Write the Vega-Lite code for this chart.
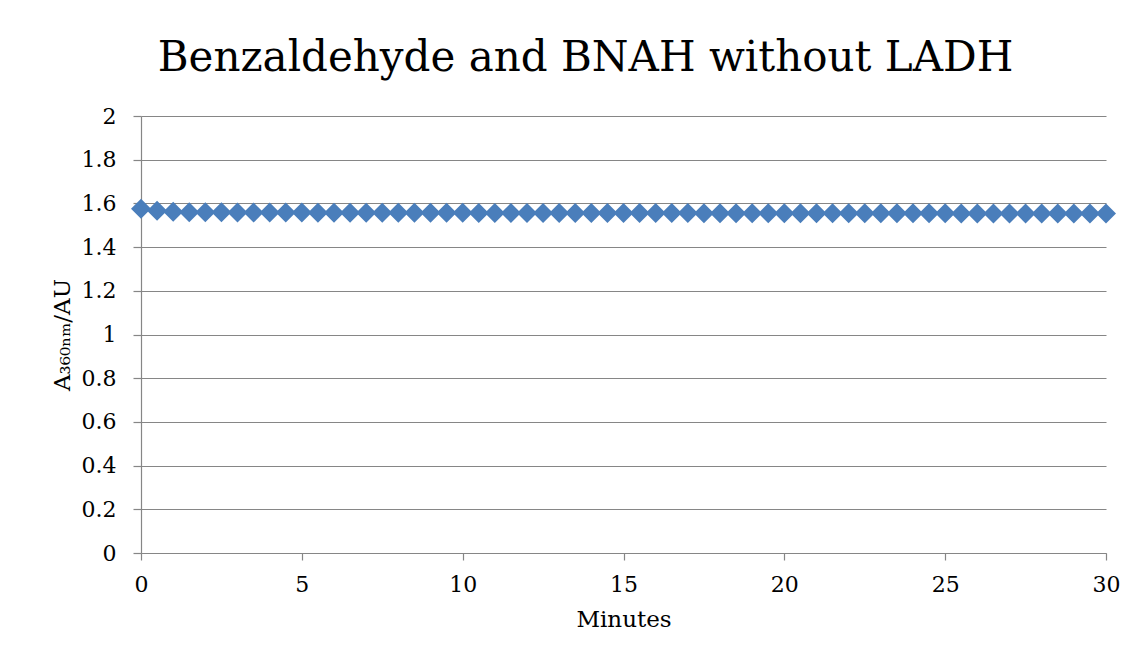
{
  "$schema": "https://vega.github.io/schema/vega-lite/v6.json",
  "width": 965,
  "height": 437,
  "autosize": "none",
  "padding": {"left": 141, "top": 116, "right": 34, "bottom": 118},
  "background": "white",
  "title": {
    "text": "Benzaldehyde and BNAH without LADH",
    "font": "DejaVu Serif",
    "fontSize": 42,
    "fontWeight": "normal",
    "color": "black",
    "anchor": "middle",
    "frame": "bounds",
    "baseline": "alphabetic",
    "offset": -8
  },
  "data": {
    "values": [
      {"min": 0, "abs": 1.576},
      {"min": 0.5, "abs": 1.566},
      {"min": 1, "abs": 1.562},
      {"min": 1.5, "abs": 1.560},
      {"min": 2, "abs": 1.559},
      {"min": 2.5, "abs": 1.559},
      {"min": 3, "abs": 1.558},
      {"min": 3.5, "abs": 1.558},
      {"min": 4, "abs": 1.558},
      {"min": 4.5, "abs": 1.558},
      {"min": 5, "abs": 1.558},
      {"min": 5.5, "abs": 1.557},
      {"min": 6, "abs": 1.557},
      {"min": 6.5, "abs": 1.557},
      {"min": 7, "abs": 1.557},
      {"min": 7.5, "abs": 1.557},
      {"min": 8, "abs": 1.557},
      {"min": 8.5, "abs": 1.557},
      {"min": 9, "abs": 1.557},
      {"min": 9.5, "abs": 1.557},
      {"min": 10, "abs": 1.557},
      {"min": 10.5, "abs": 1.556},
      {"min": 11, "abs": 1.556},
      {"min": 11.5, "abs": 1.556},
      {"min": 12, "abs": 1.556},
      {"min": 12.5, "abs": 1.556},
      {"min": 13, "abs": 1.556},
      {"min": 13.5, "abs": 1.556},
      {"min": 14, "abs": 1.556},
      {"min": 14.5, "abs": 1.556},
      {"min": 15, "abs": 1.556},
      {"min": 15.5, "abs": 1.556},
      {"min": 16, "abs": 1.556},
      {"min": 16.5, "abs": 1.556},
      {"min": 17, "abs": 1.556},
      {"min": 17.5, "abs": 1.555},
      {"min": 18, "abs": 1.555},
      {"min": 18.5, "abs": 1.555},
      {"min": 19, "abs": 1.555},
      {"min": 19.5, "abs": 1.555},
      {"min": 20, "abs": 1.555},
      {"min": 20.5, "abs": 1.555},
      {"min": 21, "abs": 1.555},
      {"min": 21.5, "abs": 1.555},
      {"min": 22, "abs": 1.555},
      {"min": 22.5, "abs": 1.555},
      {"min": 23, "abs": 1.555},
      {"min": 23.5, "abs": 1.555},
      {"min": 24, "abs": 1.555},
      {"min": 24.5, "abs": 1.555},
      {"min": 25, "abs": 1.555},
      {"min": 25.5, "abs": 1.554},
      {"min": 26, "abs": 1.554},
      {"min": 26.5, "abs": 1.554},
      {"min": 27, "abs": 1.554},
      {"min": 27.5, "abs": 1.554},
      {"min": 28, "abs": 1.554},
      {"min": 28.5, "abs": 1.554},
      {"min": 29, "abs": 1.554},
      {"min": 29.5, "abs": 1.554},
      {"min": 30, "abs": 1.554}
    ]
  },
  "mark": {"type": "point", "shape": "diamond", "filled": true, "size": 400, "color": "#4a7ebb", "opacity": 1},
  "encoding": {
    "x": {
      "field": "min",
      "type": "quantitative",
      "scale": {"domain": [0, 30], "nice": false, "zero": false},
      "axis": {
        "title": "Minutes",
        "values": [0, 5, 10, 15, 20, 25, 30],
        "grid": false,
        "tickSize": 7,
        "labelPadding": 14,
        "titlePadding": 13
      }
    },
    "y": {
      "field": "abs",
      "type": "quantitative",
      "scale": {"domain": [0, 2], "nice": false},
      "axis": {
        "title": "A₃₆₀ₙₘ/AU",
        "values": [0, 0.2, 0.4, 0.6, 0.8, 1, 1.2, 1.4, 1.6, 1.8, 2],
        "format": "~g",
        "grid": true,
        "tickSize": 8,
        "labelPadding": 17,
        "titlePadding": 7,
        "titleFontSize": 23
      }
    }
  },
  "config": {
    "view": {"stroke": null},
    "axis": {
      "labelFont": "DejaVu Serif",
      "labelFontSize": 22,
      "labelColor": "black",
      "titleFont": "DejaVu Serif",
      "titleFontSize": 23,
      "titleFontWeight": "normal",
      "titleColor": "black",
      "domainColor": "#868686",
      "tickColor": "#868686",
      "gridColor": "#868686",
      "domainWidth": 1.2,
      "tickWidth": 1.2,
      "gridWidth": 1.2,
      "labelFlush": false,
      "labelOverlap": false
    }
  }
}
